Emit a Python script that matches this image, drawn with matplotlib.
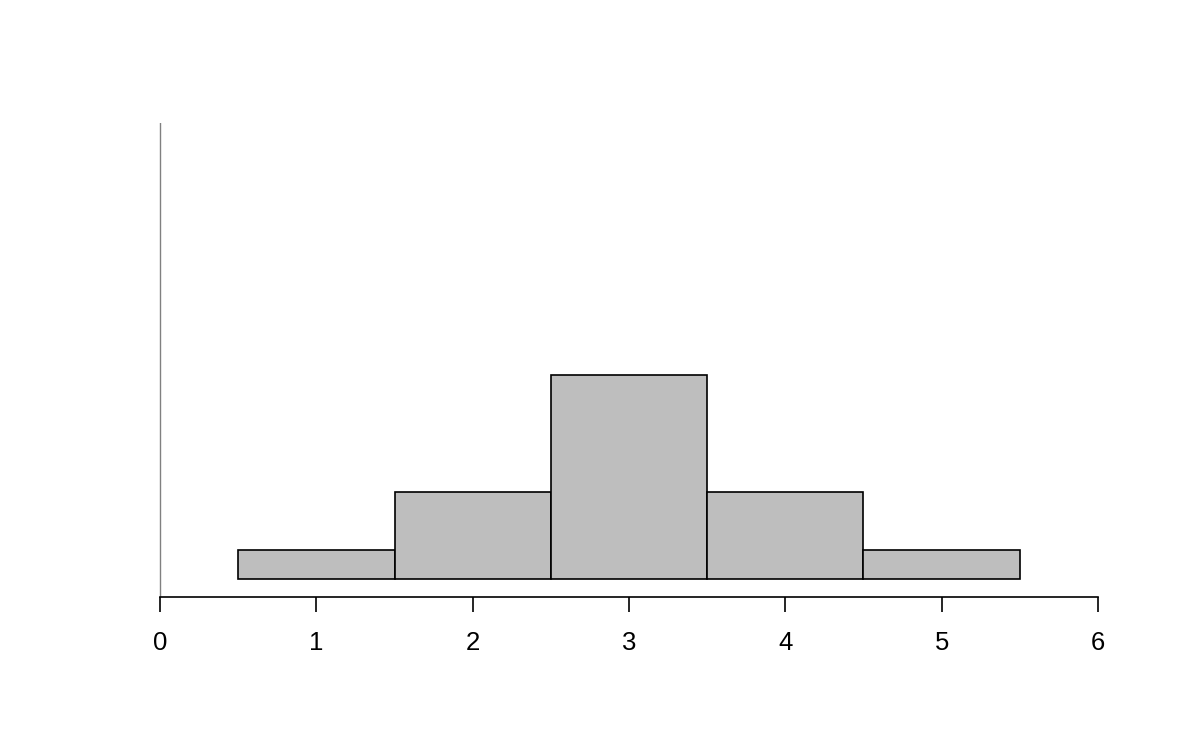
import numpy as np
import matplotlib
matplotlib.use("Agg")
from matplotlib import pyplot as plt

# histogram counts
bin_edges = [0.5, 1.5, 2.5, 3.5, 4.5, 5.5]
counts = [1, 3, 7, 3, 1]
xticks = [0, 1, 2, 3, 4, 5, 6]

plt.rcParams['font.family'] = ['Liberation Sans', 'DejaVu Sans']

fig = plt.figure(figsize=(12, 7.5), dpi=100)
ax = fig.add_axes([122.5 / 1200, 153 / 750, 1013 / 1200, 474 / 750])

lefts = np.array(bin_edges[:-1])
widths = np.diff(bin_edges)
ax.bar(lefts, counts, width=widths, align='edge', color='#bebebe',
       edgecolor='black', linewidth=1.2)

ax.axvline(0, color='#808080', linewidth=1.0)

ax.set_xlim(-0.24, 6.24)
ax.set_ylim(-0.6, 15.6)

for s in ['top', 'right', 'left']:
    ax.spines[s].set_visible(False)
ax.spines['bottom'].set_bounds(0, 6)
ax.spines['bottom'].set_linewidth(1.2)

ax.set_yticks([])
ax.set_xticks(xticks)
ax.set_xticklabels([str(t) for t in xticks])
ax.tick_params(axis='x', length=10.5, width=1.2, pad=14, labelsize=18.5)

fig.savefig('out.png', dpi=100)
